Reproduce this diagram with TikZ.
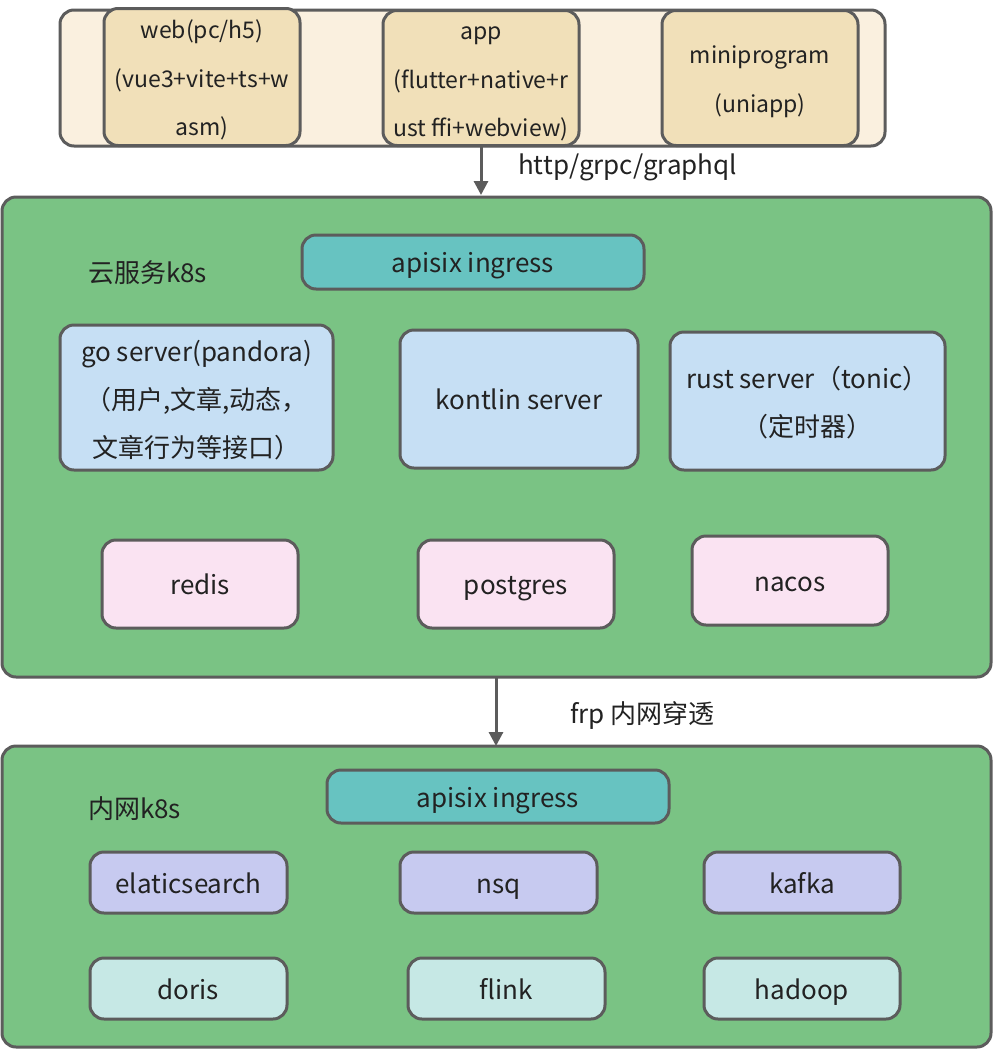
\documentclass[tikz,border=0pt]{standalone}
\usepackage{fontspec}
\setmainfont{Noto Sans CJK SC}
\usetikzlibrary{arrows.meta}
\definecolor{edge}{HTML}{5C5C5C}
\definecolor{cream}{HTML}{FAF0DF}
\definecolor{tan}{HTML}{F1E0B9}
\definecolor{grn}{HTML}{7AC384}
\definecolor{teal}{HTML}{67C3C1}
\definecolor{lblue}{HTML}{C6DFF4}
\definecolor{pink}{HTML}{FAE3F2}
\definecolor{lav}{HTML}{C7CAF0}
\definecolor{lcyan}{HTML}{C6E8E5}
\definecolor{txt}{HTML}{222222}
\tikzset{
  base/.style={draw=edge, line width=3pt, rounded corners=14pt, text=txt, align=center, inner sep=0pt},
  bx/.style n args={4}{base, minimum width=#3, minimum height=#4, fill=#1, at={#2}},
  one/.style={font=\fontsize{26}{30}\selectfont, text height=23pt, text depth=2pt},
  multi/.style={font=\fontsize{26}{48}\selectfont, text depth=6pt},
  top/.style={font=\fontsize{23}{48.5}\selectfont, text depth=6pt},
  lbl/.style={text=txt, inner sep=0pt, font=\fontsize{26}{30}\selectfont, text height=23pt, text depth=2pt},
  arr/.style={draw=edge, line width=3pt, -{Triangle[length=14pt,width=14pt]}}
}
\begin{document}
\begin{tikzpicture}[x=1pt,y=-1pt]
\useasboundingbox (0,0) rectangle (993,1053);
% top client box
\node[bx={cream}{(472.5,78)}{825}{136}] (clients) {};
\node[bx={tan}{(202,77)}{196}{137}, top, text height=123pt] (web) {web(pc/h5)\\(vue3+vite+ts+w\\asm)};
\node[bx={tan}{(481,78)}{196}{135}, top, text height=123pt] (app) {app\\(flutter+native+r\\ust ffi+webview)};
\node[bx={tan}{(760,78)}{196}{135}, top, text height=74pt] (mini) {miniprogram\\(uniapp)};
% cloud
\node[bx={grn}{(496.5,437)}{989}{480}] (cloud) {};
\node[lbl, anchor=west] (cloudlbl) at (88,272) {云服务k8s};
\node[bx={teal}{(473,262)}{342}{54}, one] (ing1) {apisix ingress};
\node[bx={lblue}{(196.5,397.5)}{273}{145}, multi, text height=125pt] (go) {go server(pandora)\\（用户,文章,动态，\\文章行为等接口）};
\node[bx={lblue}{(519,399)}{238}{138}, one] (kt) {kontlin server};
\node[bx={lblue}{(807.5,401)}{275}{138}, multi, text height=76pt] (rust) {rust server（tonic）\\（定时器）};
\node[bx={pink}{(200,584)}{196}{88}, one] (redis) {redis};
\node[bx={pink}{(516,584)}{196}{88}, one] (pg) {postgres};
\node[bx={pink}{(790,580.5)}{196}{89}, one] (nacos) {nacos};
% intranet
\node[bx={grn}{(496.5,896.5)}{989}{301}] (lan) {};
\node[lbl, anchor=west] (lanlbl) at (88,808) {内网k8s};
\node[bx={teal}{(498,796.5)}{342}{53}, one] (ing2) {apisix ingress};
\node[bx={lav}{(188.5,882.5)}{197}{61}, one] (es) {elaticsearch};
\node[bx={lav}{(498.5,882.5)}{197}{61}, one] (nsq) {nsq};
\node[bx={lav}{(802,882.5)}{196}{61}, one] (kafka) {kafka};
\node[bx={lcyan}{(188.5,988.5)}{197}{61}, one] (doris) {doris};
\node[bx={lcyan}{(506.5,988.5)}{197}{61}, one] (flink) {flink};
\node[bx={lcyan}{(802,988.5)}{196}{61}, one] (hadoop) {hadoop};
% arrows
\coordinate (a1s) at (481,146);
\coordinate (a1e) at (481,195);
\draw[arr] (a1s) -- (a1e);
\node[lbl, anchor=west] (proto) at (518,164) {http/grpc/graphql};
\coordinate (a2s) at (496,678);
\coordinate (a2e) at (496,746);
\draw[arr] (a2s) -- (a2e);
\node[lbl, anchor=west] (frp) at (570,713) {frp 内网穿透};
\end{tikzpicture}
\end{document}
